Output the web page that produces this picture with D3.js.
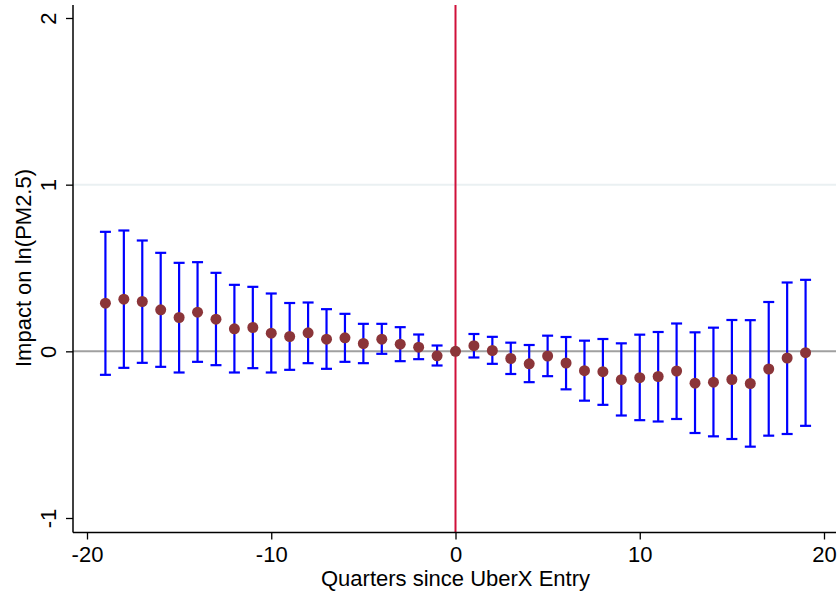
<!DOCTYPE html>
<html>
<head>
<meta charset="utf-8">
<script src="https://cdn.jsdelivr.net/npm/d3@7"></script>
<style>
  html, body { margin: 0; padding: 0; background: #fff; }
  svg { display: block; }
  text { font-family: "Liberation Sans", Arial, sans-serif; fill: #000; }
</style>
</head>
<body>
<svg id="chart" width="839" height="594"></svg>
<script>
// Event-study estimates: quarters relative to UberX entry
const quarters = [-19,-18,-17,-16,-15,-14,-13,-12,-11,-10,-9,-8,-7,-6,-5,-4,-3,-2,-1,0,
                  1,2,3,4,5,6,7,8,9,10,11,12,13,14,15,16,17,18,19];
const estimates = [0.289,0.313,0.299,0.249,0.203,0.235,0.193,0.135,0.143,0.109,
                   0.089,0.111,0.073,0.081,0.047,0.073,0.043,0.025,-0.027,0,
                   0.034,0.005,-0.043,-0.075,-0.028,-0.070,-0.116,-0.122,-0.170,-0.158,
                   -0.151,-0.118,-0.191,-0.185,-0.169,-0.193,-0.106,-0.040,-0.008];
const upper = [0.717,0.725,0.665,0.591,0.531,0.535,0.471,0.399,0.387,0.347,
               0.290,0.293,0.253,0.225,0.165,0.165,0.145,0.101,0.035,null,
               0.104,0.087,0.052,0.038,0.094,0.086,0.064,0.074,0.048,0.100,
               0.116,0.167,0.114,0.142,0.188,0.187,0.296,0.413,0.429];
const lower = [-0.141,-0.099,-0.069,-0.093,-0.127,-0.063,-0.083,-0.127,-0.101,-0.127,
               -0.111,-0.071,-0.105,-0.063,-0.071,-0.015,-0.059,-0.047,-0.085,null,
               -0.037,-0.075,-0.136,-0.185,-0.149,-0.228,-0.296,-0.321,-0.385,-0.413,
               -0.421,-0.406,-0.490,-0.510,-0.526,-0.572,-0.506,-0.496,-0.447];
const xTicks = [-20,-10,0,10,20];
const yTicks = [-1,0,1,2];
const xTitle = "Quarters since UberX Entry";
const yTitle = "Impact on ln(PM2.5)";

const rows = quarters.map((q, i) => ({ q, est: estimates[i], lo: lower[i], hi: upper[i] }));

const svg = d3.select("#chart");
const plot = { left: 73, right: 836, top: 5, bottom: 532.5 };
const fontSize = 22;

const x = d3.scaleLinear().domain([-20, 20]).range([87, 824]);
const y = d3.scaleLinear().domain([-1, 2]).range([518, 18]);

// light gridline at 1
svg.append("line")
  .attr("x1", plot.left).attr("x2", plot.right)
  .attr("y1", y(1)).attr("y2", y(1))
  .attr("stroke", "#eaf0f2").attr("stroke-width", 2);

// reference line at zero
svg.append("line")
  .attr("x1", plot.left).attr("x2", plot.right)
  .attr("y1", y(0)).attr("y2", y(0))
  .attr("stroke", "#a0a0a0").attr("stroke-width", 2);

// entry quarter marker
svg.append("line")
  .attr("x1", x(0)).attr("x2", x(0))
  .attr("y1", plot.top).attr("y2", plot.bottom)
  .attr("stroke", "#d0103a").attr("stroke-width", 2);

// confidence intervals
const capW = 5.5;
const bars = svg.append("g").attr("stroke", "#0000ff").attr("stroke-width", 2.2).attr("fill", "none");
const withCI = rows.filter(d => d.hi !== null && d.lo !== null);
bars.selectAll("line.v").data(withCI).join("line").attr("class", "v")
  .attr("x1", d => x(d.q)).attr("x2", d => x(d.q))
  .attr("y1", d => y(d.hi)).attr("y2", d => y(d.lo));
bars.selectAll("line.t").data(withCI).join("line").attr("class", "t")
  .attr("x1", d => x(d.q) - capW).attr("x2", d => x(d.q) + capW)
  .attr("y1", d => y(d.hi)).attr("y2", d => y(d.hi));
bars.selectAll("line.b").data(withCI).join("line").attr("class", "b")
  .attr("x1", d => x(d.q) - capW).attr("x2", d => x(d.q) + capW)
  .attr("y1", d => y(d.lo)).attr("y2", d => y(d.lo));

// point estimates
svg.append("g").selectAll("circle").data(rows).join("circle")
  .attr("cx", d => x(d.q)).attr("cy", d => y(d.est))
  .attr("r", 5.5).attr("fill", "#8b3539");

// axes
const fmt = d => d < 0 ? "-" + Math.abs(d) : String(d);
const xAxis = d3.axisBottom(x).tickValues(xTicks).tickSize(7).tickPadding(7);
const gx = svg.append("g").attr("transform", `translate(0,${plot.bottom})`).call(xAxis);
gx.select(".domain").remove();
gx.append("line").attr("x1", plot.left).attr("x2", plot.right).attr("stroke", "#000").attr("stroke-width", 1.5);
gx.selectAll(".tick line").attr("stroke", "#000").attr("stroke-width", 1.3);
gx.selectAll(".tick text").attr("font-size", fontSize).attr("dy", "0.71em")
  .attr("font-family", "'Liberation Sans', Arial, sans-serif").attr("fill", "#000")
  .text(fmt);

const yAxis = d3.axisLeft(y).tickValues(yTicks).tickSize(7).tickPadding(0);
const gy = svg.append("g").attr("transform", `translate(${plot.left},0)`).call(yAxis);
gy.select(".domain").remove();
gy.append("line").attr("y1", plot.top).attr("y2", plot.bottom).attr("stroke", "#000").attr("stroke-width", 1.5);
gy.selectAll(".tick line").attr("stroke", "#000").attr("stroke-width", 1.3);
gy.selectAll(".tick text")
  .attr("font-size", fontSize).attr("font-family", "'Liberation Sans', Arial, sans-serif").attr("fill", "#000")
  .attr("x", null).attr("dy", null)
  .attr("text-anchor", "middle")
  .attr("transform", "translate(-17,0) rotate(-90)")
  .text(fmt);

// titles
svg.append("text")
  .attr("x", (plot.left + plot.right) / 2 + 1).attr("y", 586)
  .attr("text-anchor", "middle").attr("font-size", fontSize)
  .text(xTitle);
svg.append("text")
  .attr("transform", `translate(31,${(y(0) + y(1)) / 2}) rotate(-90)`)
  .attr("text-anchor", "middle").attr("font-size", fontSize)
  .text(yTitle);
</script>
</body>
</html>
